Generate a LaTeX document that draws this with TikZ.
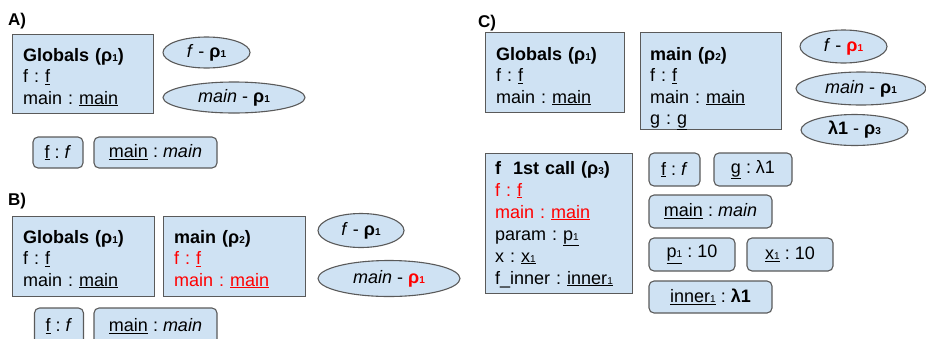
\documentclass[tikz,border=0pt]{standalone}
\usepackage{fontspec}
\setmainfont{Liberation Sans}
\usetikzlibrary{shapes.geometric}
\definecolor{boxblue}{HTML}{CFE2F3}
\definecolor{edgegray}{HTML}{5A5A5A}
\definecolor{hot}{HTML}{FF0000}
\frenchspacing
\newcommand\lowsub[1]{{\fontsize{10}{10}\selectfont #1}}
\newcommand\rh[1]{\textbf{ρ\lowsub{#1}}}
\newcommand\ul[1]{\underline{#1}}
\tikzset{
  every node/.style={font=\fontsize{18}{21.5}\selectfont\frenchspacing},
  frame/.style={draw=edgegray, fill=boxblue, line width=1.1pt, anchor=north west, inner sep=0pt},
  lines/.style={anchor=base west, align=left, inner sep=0pt, text width=#1},
  lines/.default=140pt,
  valbox/.style={draw=edgegray, fill=boxblue, line width=1.1pt, rounded corners=5pt, inner sep=0pt},
  envell/.style={ellipse, draw=edgegray, fill=boxblue, line width=1.1pt, inner sep=0pt},
  lbl/.style={anchor=base west, inner sep=0pt, font=\fontsize{17}{20}\selectfont\bfseries}
}
\begin{document}
\begin{tikzpicture}[x=1pt,y=-1pt]
\useasboundingbox (0,0) rectangle (926,338);
% ---------------- A ----------------
\node[lbl] (labA) at (8,25) {A)};
\node[frame, minimum width=141pt, minimum height=79pt] (gA) at (12,34) {};
\node[lines=125pt] (gAt) at (23,61) {\textbf{Globals (\rh1)}\\ f : \ul{f}\\ main : \ul{main}};
\node[envell, minimum width=87pt, minimum height=31pt] (eA1) at (206.5,52.5) {\textit{f} - \rh1};
\node[envell, minimum width=142pt, minimum height=31pt] (eA2) at (234,97.5) {\textit{main} - \rh1};
\node[valbox, minimum width=50pt, minimum height=31pt] (vA1) at (58,152.5) {\ul{f} : \textit{f}};
\node[valbox, minimum width=123pt, minimum height=31pt] (vA2) at (155.5,152.5) {\ul{main} : \textit{main}};
% ---------------- B ----------------
\node[lbl] (labB) at (8,205) {B)};
\node[frame, minimum width=142pt, minimum height=80pt] (gB) at (12,216) {};
\node[lines=125pt] (gBt) at (23,243) {\textbf{Globals (\rh1)}\\ f : \ul{f}\\ main : \ul{main}};
\node[frame, minimum width=142pt, minimum height=80pt] (mB) at (163,216) {};
\node[lines=125pt] (mBt) at (174,243) {\textbf{main (\rh2)}\\ {\color{hot}f : \ul{f}}\\ {\color{hot}main : \ul{main}}};
\node[envell, minimum width=86pt, minimum height=34pt] (eB1) at (361,230.5) {\textit{f} - \rh1};
\node[envell, minimum width=142pt, minimum height=36pt] (eB2) at (389,278.5) {\textit{main} - {\color{hot}\rh1}};
\node[valbox, minimum width=49pt, minimum height=36pt] (vB1) at (59,326) {\ul{f} : \textit{f}};
\node[valbox, minimum width=123pt, minimum height=36pt] (vB2) at (155.5,326) {\ul{main} : \textit{main}};
% ---------------- C ----------------
\node[lbl] (labC) at (478,27) {C)};
\node[frame, minimum width=139pt, minimum height=80pt] (gC) at (485,32) {};
\node[lines=125pt] (gCt) at (496,60) {\textbf{Globals (\rh1)}\\ f : \ul{f}\\ main : \ul{main}};
\node[frame, minimum width=141pt, minimum height=97pt] (mC) at (640,32) {};
\node[lines=125pt] (mCt) at (650,60) {\textbf{main (\rh2)}\\ f : \ul{f}\\ main : \ul{main}\\ g : \ul{g}};
\node[envell, minimum width=87pt, minimum height=33pt] (eC1) at (843.5,46.5) {\textit{f} - {\color{hot}\rh1}};
\node[envell, minimum width=130pt, minimum height=33pt] (eC2) at (861,88.5) {\textit{main} - \rh1};
\node[envell, minimum width=107pt, minimum height=31pt] (eC3) at (854.5,130) {\textbf{λ1} - \rh3};
\node[frame, minimum width=147pt, minimum height=140pt] (fC) at (485,153) {};
\node[lines=135pt, font=\fontsize{18}{22}\selectfont\frenchspacing] (fCt) at (495,174) {\textbf{f\ \ 1st call (\rh3)}\\ {\color{hot}f : \ul{f}}\\ {\color{hot}main : \ul{main}}\\ param : \ul{p\lowsub1}\\ x : \ul{x\lowsub1}\\ f\_inner : \ul{inner\lowsub1}};
\node[valbox, minimum width=51pt, minimum height=33pt] (vC1) at (674.5,169.5) {\ul{f} : \textit{f}};
\node[valbox, minimum width=78pt, minimum height=33pt] (vC2) at (753,169.5) {\ul{g} : λ1};
\node[valbox, minimum width=123pt, minimum height=33pt] (vC3) at (710.5,211.5) {\ul{main} : \textit{main}};
\node[valbox, minimum width=86pt, minimum height=33pt] (vC4) at (692,254.5) {\ul{p\lowsub1} : 10};
\node[valbox, minimum width=86pt, minimum height=33pt] (vC5) at (790,254.5) {\ul{x\lowsub1} : 10};
\node[valbox, minimum width=123pt, minimum height=32pt] (vC6) at (710.5,297) {\ul{inner\lowsub1} : \textbf{λ1}};
\end{tikzpicture}
\end{document}
